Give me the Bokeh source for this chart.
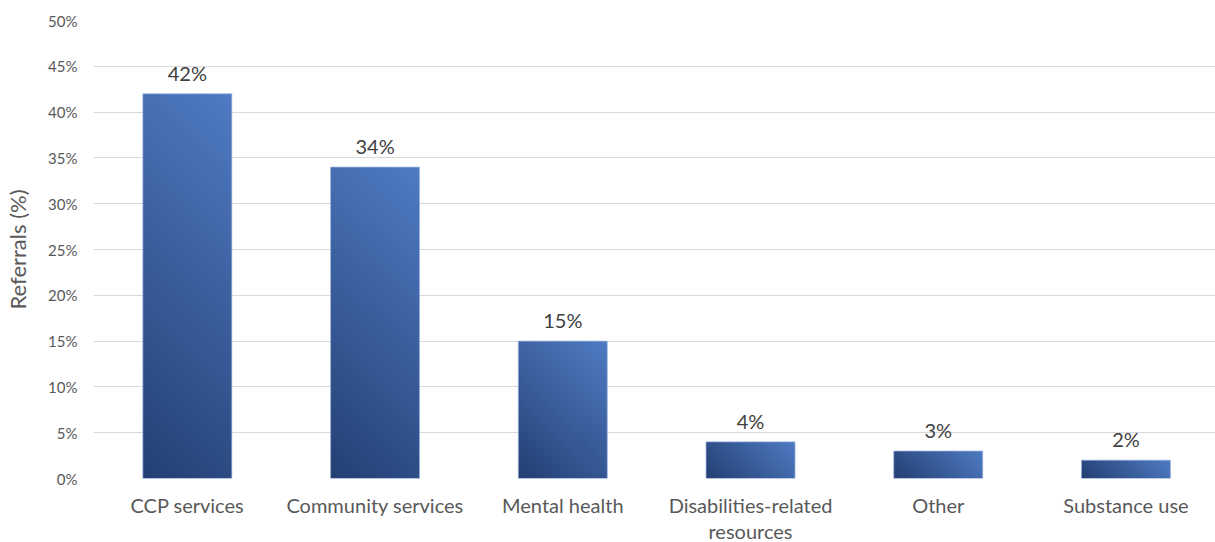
import numpy as np
from bokeh.plotting import figure
from bokeh.layouts import column
from bokeh.models import Range1d, FixedTicker, NumeralTickFormatter, ColumnDataSource
from bokeh.core.properties import value
from bokeh.embed import file_html
from bokeh.resources import INLINE

categories = ["CCP services", "Community services", "Mental health",
              "Disabilities-related\nresources", "Other", "Substance use"]
referrals = [42, 34, 15, 4, 3, 2]
y_ticks = [0, 5, 10, 15, 20, 25, 30, 35, 40, 45, 50]

W, H = 1215, 542
ML, MT, MB_TOP, STRIP = 93, 20, 10, 54
H_TOP = H - STRIP
frame_w = W - ML
frame_h = H_TOP - MT - MB_TOP
x_end = 5.977
bar_w = 0.474

p = figure(width=W, height=H_TOP, output_backend="svg", toolbar_location=None,
           x_range=Range1d(0, x_end), y_range=Range1d(0, 50),
           min_border_left=ML, min_border_right=0, min_border_top=MT, min_border_bottom=MB_TOP)
p.outline_line_color = None
p.background_fill_color = "white"
p.border_fill_color = "white"

xs = [i + 0.5 for i in range(len(categories))]

# gradient bars drawn as images placed by data coordinates
dark = np.array([36, 64, 116], dtype=float)
light = np.array([80, 124, 196], dtype=float)
px_x = frame_w / x_end
px_y = frame_h / 50.0
imgs, ix, idw, idh = [], [], [], []
for xc, v in zip(xs, referrals):
    wp = max(2, int(round(bar_w * px_x)))
    hp = max(2, int(round(v * px_y)))
    gx = (np.arange(wp) + 0.5)[None, :]
    gy = (np.arange(hp) + 0.5)[:, None]
    t = (gx + gy) / (wp + hp)
    rgb = dark[None, None, :] + t[:, :, None] * (light - dark)[None, None, :]
    rgba = np.zeros((hp, wp), dtype=np.uint32)
    view = rgba.view(dtype=np.uint8).reshape((hp, wp, 4))
    view[:, :, 0] = rgb[:, :, 0].astype(np.uint8)
    view[:, :, 1] = rgb[:, :, 1].astype(np.uint8)
    view[:, :, 2] = rgb[:, :, 2].astype(np.uint8)
    view[:, :, 3] = 255
    imgs.append(rgba)
    ix.append(xc - bar_w / 2)
    idw.append(bar_w)
    idh.append(v)

p.image_rgba(image=imgs, x=ix, y=[0] * len(imgs), dw=idw, dh=idh)

src = ColumnDataSource(dict(x=xs, top=referrals, lab=[f"{v}%" for v in referrals]))
p.vbar(x="x", top="top", width=bar_w, source=src, fill_alpha=0,
       line_color="#9DB4E0", line_width=1, line_alpha=0.7)

p.text(x="x", y="top", text="lab", source=src, text_align="center",
       text_baseline="bottom", y_offset=-9, text_font=value("Lato"),
       text_font_size="20px", text_color="#404040")

# grid
p.xgrid.visible = False
p.ygrid.ticker = FixedTicker(ticks=y_ticks)
p.ygrid.grid_line_color = "#D9D9D9"
p.ygrid.grid_line_width = 1

# y axis
p.yaxis.ticker = FixedTicker(ticks=y_ticks)
p.yaxis.formatter = NumeralTickFormatter(format="0")
p.yaxis.major_label_overrides = {t: f"{t}%" for t in y_ticks}
p.yaxis.axis_line_color = None
p.yaxis.major_tick_line_color = None
p.yaxis.minor_tick_line_color = None
p.yaxis.major_tick_out = 0
p.yaxis.major_tick_in = 0
p.yaxis.minor_tick_out = 0
p.yaxis.major_label_text_font = "Lato"
p.yaxis.major_label_text_font_size = "15px"
p.yaxis.major_label_text_color = "#595959"
p.yaxis.major_label_standoff = 16
p.yaxis.axis_label = "Referrals (%)"
p.yaxis.axis_label_text_font = "Lato"
p.yaxis.axis_label_text_font_size = "22px"
p.yaxis.axis_label_text_font_style = "normal"
p.yaxis.axis_label_text_color = "#595959"
p.yaxis.axis_label_standoff = 14
p.xaxis.visible = False

# category label strip sharing the x range
b = figure(width=W, height=STRIP, output_backend="svg", toolbar_location=None,
           x_range=p.x_range, y_range=Range1d(0, STRIP),
           min_border_left=ML, min_border_right=0, min_border_top=0, min_border_bottom=0)
b.outline_line_color = None
b.axis.visible = False
b.grid.visible = False
csrc = ColumnDataSource(dict(x=xs, cat=categories, y=[STRIP - 4] * len(xs)))
b.text(x="x", y="y", text="cat", source=csrc, text_align="center", text_baseline="top",
       text_font=value("Lato"), text_font_size="20px", text_color="#595959",
       text_line_height=1.1)

layout = column(p, b, spacing=0)
open("out.html", "w").write(file_html(layout, INLINE))
